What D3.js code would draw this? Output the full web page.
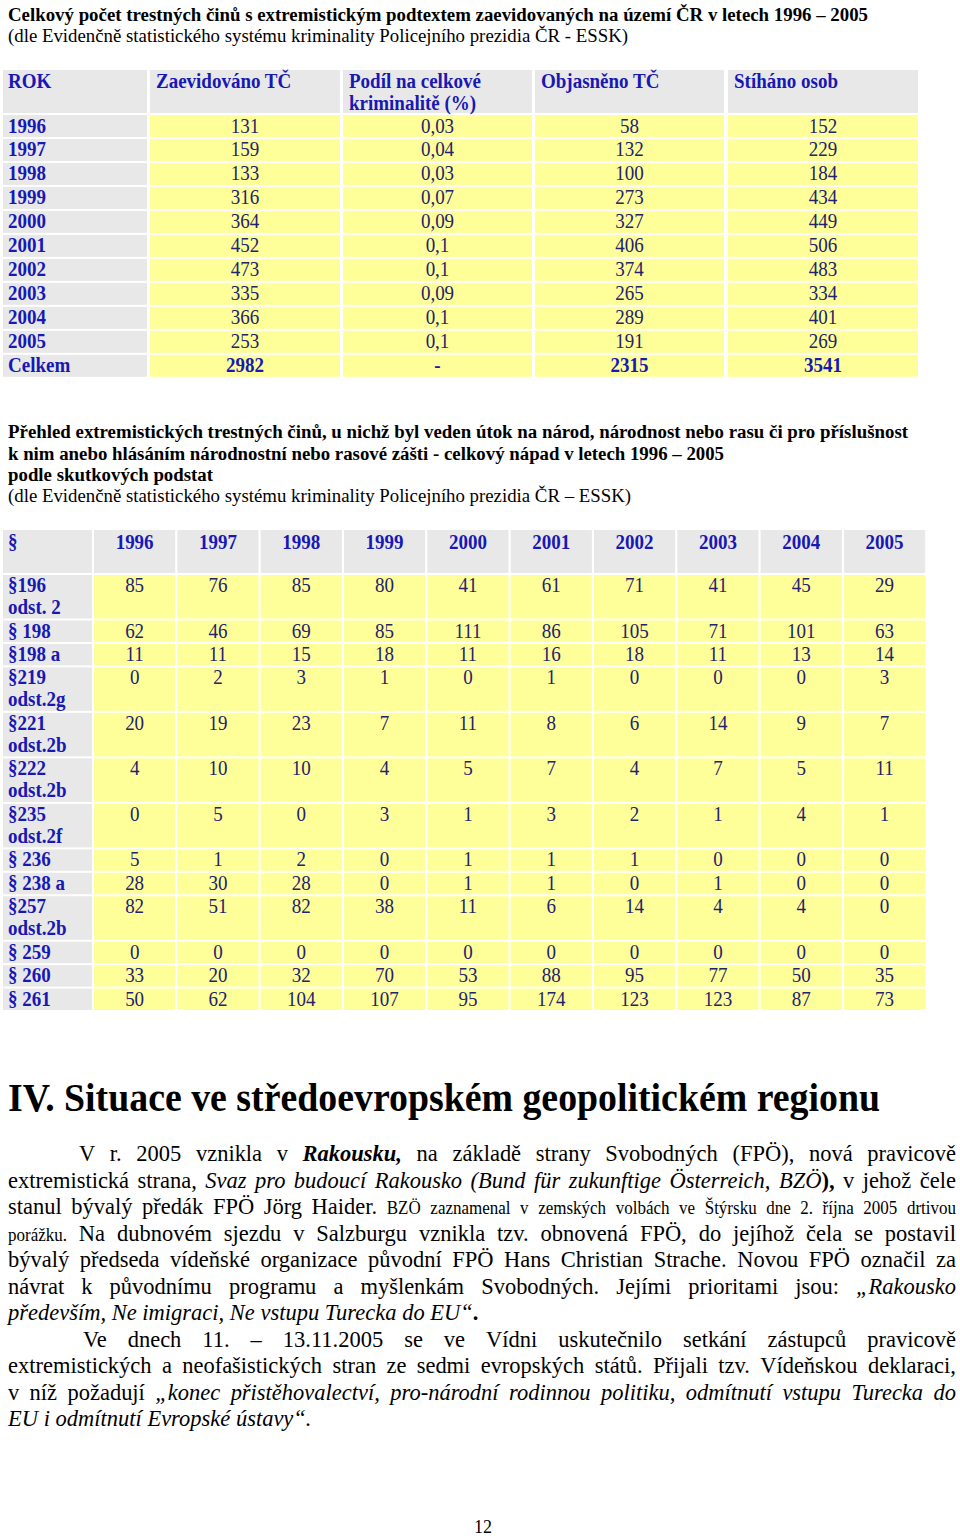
<!DOCTYPE html>
<html><head><meta charset="utf-8">
<script src="https://cdn.jsdelivr.net/npm/d3@7"></script>
<style>body{margin:0;background:#fff} svg{display:block}</style>
</head><body><svg id="c" width="960" height="1538"></svg>
<script>
// ---------- DATA ----------
const years = ["1996","1997","1998","1999","2000","2001","2002","2003","2004","2005"];
const rowLabels1 = years.concat(["Celkem"]);
const headers1 = [["ROK"],["Zaevidováno TČ"],["Podíl na celkové","kriminalitě (%)"],["Objasněno TČ"],["Stíháno osob"]];
const zaevidovano = [131,159,133,316,364,452,473,335,366,253];
const podil = ["0,03","0,04","0,03","0,07","0,09","0,1","0,1","0,09","0,1","0,1"];
const objasneno = [58,132,100,273,327,406,374,265,289,191];
const stihano = [152,229,184,434,449,506,483,334,401,269];
const totals1 = ["2982","-","2315","3541"];

const paragraphs = [["§196","odst. 2"],["§ 198"],["§198 a"],["§219","odst.2g"],["§221","odst.2b"],["§222","odst.2b"],["§235","odst.2f"],["§ 236"],["§ 238 a"],["§257","odst.2b"],["§ 259"],["§ 260"],["§ 261"]];
const p196  = [85,76,85,80,41,61,71,41,45,29];
const p198  = [62,46,69,85,111,86,105,71,101,63];
const p198a = [11,11,15,18,11,16,18,11,13,14];
const p219  = [0,2,3,1,0,1,0,0,0,3];
const p221  = [20,19,23,7,11,8,6,14,9,7];
const p222  = [4,10,10,4,5,7,4,7,5,11];
const p235  = [0,5,0,3,1,3,2,1,4,1];
const p236  = [5,1,2,0,1,1,1,0,0,0];
const p238a = [28,30,28,0,1,1,0,1,0,0];
const p257  = [82,51,82,38,11,6,14,4,4,0];
const p259  = [0,0,0,0,0,0,0,0,0,0];
const p260  = [33,20,32,70,53,88,95,77,50,35];
const p261  = [50,62,104,107,95,174,123,123,87,73];
const counts2 = [p196,p198,p198a,p219,p221,p222,p235,p236,p238a,p257,p259,p260,p261];

// ---------- STYLE ----------
const FONT = "'Liberation Serif','Times New Roman',serif";
const SY = 1.05;
const GRAY = "#e8e8e8", YEL = "#ffff99", LBL = "#1818b4", DAT = "#22226e";
const svg = d3.select("#c").style("font-family", FONT);
svg.append("rect").attr("width",960).attr("height",1538).attr("fill","#fff");

function T(x, y, str, o={}) {
  const t = svg.append("text")
    .attr("transform", `translate(${x},${y}) scale(1,${o.sy||SY})`)
    .attr("font-size", o.fs||18)
    .attr("font-weight", o.bold?"bold":"normal")
    .attr("font-style", o.italic?"italic":"normal")
    .attr("fill", o.fill||"#000")
    .attr("text-anchor", o.anchor||"start")
    .text(str);
  if (o.w) t.attr("textLength", o.w).attr("lengthAdjust","spacingAndGlyphs");
  return t;
}

// ---------- TITLE 1 ----------
T(8, 21, "Celkový počet trestných činů s extremistickým podtextem zaevidovaných na území ČR v letech 1996 – 2005", {bold:true, fs:18, w:860});
T(8, 42, "(dle Evidenčně statistického systému kriminality Policejního prezidia ČR - ESSK)", {fs:18, w:620});

// ---------- TABLE 1 ----------
const cols1 = [[3,147],[150,340],[343,532],[535,724],[728,918]];
const y1 = d3.scaleBand().domain(rowLabels1).range([115, 115 + 11*23.8]).paddingInner(2/23.8).paddingOuter(0);
cols1.forEach((c,i)=>{
  svg.append("rect").attr("x",c[0]).attr("y",70).attr("width",c[1]-c[0]).attr("height",43).attr("fill",GRAY);
  headers1[i].forEach((h,k)=> T(c[0]+6 - (i===0?1:0), 88 + k*22, h, {bold:true, fill:LBL, fs:19}));
});
const table1Cols = [zaevidovano, podil, objasneno, stihano];
rowLabels1.forEach((r,ri)=>{
  const yy = y1(r), h = y1.bandwidth();
  svg.append("rect").attr("x",cols1[0][0]).attr("y",yy).attr("width",cols1[0][1]-cols1[0][0]).attr("height",h).attr("fill",GRAY);
  T(8, yy+17.5, r, {bold:true, fill:LBL, fs:19});
  table1Cols.forEach((arr,ci)=>{
    const c = cols1[ci+1];
    svg.append("rect").attr("x",c[0]).attr("y",yy).attr("width",c[1]-c[0]).attr("height",h).attr("fill",YEL);
    const isTot = ri === 10;
    const v = isTot ? totals1[ci] : String(arr[ri]);
    T((c[0]+c[1])/2, yy+17.5, v, {anchor:"middle", fill:isTot?LBL:DAT, bold:isTot, fs:19});
  });
});

// ---------- TITLE 2 ----------
T(8, 438, "Přehled extremistických trestných činů, u nichž byl veden útok na národ, národnost nebo rasu či pro příslušnost", {bold:true, fs:18, w:900});
T(8, 460, "k nim anebo hlásáním národnostní nebo rasové zášti - celkový nápad v letech 1996 – 2005", {bold:true, fs:18, w:716});
T(8, 481, "podle skutkových podstat", {bold:true, fs:18, w:205});
T(8, 502, "(dle Evidenčně statistického systému kriminality Policejního prezidia ČR – ESSK)", {fs:18, w:623});

// ---------- TABLE 2 ----------
const x2 = d3.scaleBand().domain(years).range([94, 925.2]).paddingInner(0.025).paddingOuter(0);
const units = paragraphs.map(p => p.length + 0.06);
const cum = [0]; units.forEach(u => cum.push(cum[cum.length-1] + u));
const y2 = d3.scaleLinear().domain([0, cum[cum.length-1]]).range([575, 1012]);
svg.append("rect").attr("x",3).attr("y",530).attr("width",89).attr("height",43).attr("fill",GRAY);
T(8, 549, "§", {bold:true, fill:LBL, fs:19});
years.forEach(yv=>{
  svg.append("rect").attr("x",x2(yv)).attr("y",530).attr("width",x2.bandwidth()).attr("height",43).attr("fill",GRAY);
  T(x2(yv)+x2.bandwidth()/2, 549, yv, {bold:true, fill:LBL, fs:19, anchor:"middle"});
});
paragraphs.forEach((p,ri)=>{
  const top = y2(cum[ri]), h = y2(cum[ri+1]) - top - 2;
  svg.append("rect").attr("x",3).attr("y",top).attr("width",89).attr("height",h).attr("fill",GRAY);
  p.forEach((line,k)=> T(8, top+17 + k*22, line, {bold:true, fill:LBL, fs:19}));
  years.forEach((yv,ci)=>{
    svg.append("rect").attr("x",x2(yv)).attr("y",top).attr("width",x2.bandwidth()).attr("height",h).attr("fill",YEL);
    T(x2(yv)+x2.bandwidth()/2, top+17, String(counts2[ri][ci]), {fill:DAT, fs:19, anchor:"middle"});
  });
});

// ---------- HEADING ----------
T(8, 1111, "IV. Situace ve středoevropském geopolitickém regionu", {bold:true, fs:36, sy:1.12, w:872});

// ---------- BODY ----------
const bodyLines = [
 {x:79, j:true, runs:[["n","V r. 2005 vznikla v "],["bi","Rakousku,"],["n"," na základě strany Svobodných (FPÖ), nová pravicově"]]},
 {x:8, j:true, runs:[["n","extremistická strana, "],["i","Svaz pro budoucí Rakousko (Bund für zukunftige Österreich, BZÖ"],["b","),"],["n"," v jehož čele"]]},
 {x:8, j:true, runs:[["n","stanul bývalý předák FPÖ Jörg Haider. "],["s","BZÖ zaznamenal v zemských volbách ve Štýrsku dne 2. října 2005 drtivou"]]},
 {x:8, j:true, runs:[["s","porážku. "],["n","Na dubnovém sjezdu v Salzburgu vznikla tzv. obnovená FPÖ, do jejíhož čela se postavil"]]},
 {x:8, j:true, runs:[["n","bývalý předseda vídeňské organizace původní FPÖ Hans Christian Strache. Novou FPÖ označil za"]]},
 {x:8, j:true, runs:[["n","návrat k původnímu programu a myšlenkám Svobodných. Jejími prioritami jsou: "],["i","„Rakousko"]]},
 {x:8, j:false, runs:[["i","především, Ne imigraci, Ne vstupu Turecka do EU“"],["b","."]]},
 {x:83, j:true, runs:[["n","Ve dnech 11. – 13.11.2005 se ve Vídni uskutečnilo setkání zástupců pravicově"]]},
 {x:8, j:true, runs:[["n","extremistických a neofašistických stran ze sedmi evropských států. Přijali tzv. Vídeňskou deklaraci,"]]},
 {x:8, j:true, runs:[["n","v níž požadují "],["i","„konec přistěhovalectví, pro-národní rodinnou politiku, odmítnutí vstupu Turecka do"]]},
 {x:8, j:false, runs:[["i","EU i odmítnutí Evropské ústavy“."]]}
];
const BFS = 22.5, SFS = 17;
function styleT(ts, s){
  ts.attr("font-size", s==="s"?SFS:BFS)
    .attr("font-weight", (s==="b"||s==="bi")?"bold":"normal")
    .attr("font-style", (s==="i"||s==="bi")?"italic":"normal");
}
bodyLines.forEach((ln,li)=>{
  const base = 1161 + li*26.5;
  const words = []; let cur = null;
  ln.runs.forEach(([s,t])=>{
    t.split(/( )/).forEach(part=>{
      if (part === " ") { cur = null; }
      else if (part !== "") { if (!cur) { cur = []; words.push(cur); } cur.push({s,t:part}); }
    });
  });
  const nodes = words.map(w=>{
    const t = svg.append("text").attr("fill","#000");
    w.forEach(pc=>{ const ts = t.append("tspan").text(pc.t); styleT(ts, pc.s); });
    return t;
  });
  const widths = nodes.map(n=>n.node().getComputedTextLength());
  const total = d3.sum(widths);
  const gap = ln.j ? (956 - ln.x - total)/(words.length-1) : BFS*0.25;
  let x = ln.x;
  nodes.forEach((n,i)=>{
    n.attr("transform", `translate(${x},${base}) scale(1,${SY})`);
    x += widths[i] + gap;
  });
});

// ---------- PAGE NUMBER ----------
T(483, 1533, "12", {fs:18, sy:1.0, anchor:"middle"});
</script></body></html>
